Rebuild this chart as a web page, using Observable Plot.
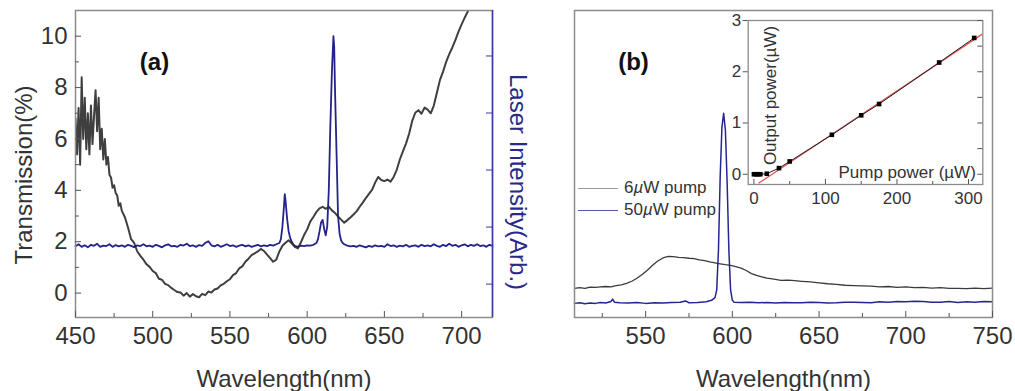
<!DOCTYPE html>
<html><head><meta charset="utf-8">
<script src="https://cdn.jsdelivr.net/npm/d3@7"></script>
<script src="https://cdn.jsdelivr.net/npm/@observablehq/plot@0.6"></script>
<style>
body{margin:0;background:#fff;}
#fig{position:relative;width:1015px;height:391px;overflow:hidden;background:#fff;font-family:"Liberation Sans",Arial,Helvetica,sans-serif;}
#fig > svg{position:absolute;top:0;}
.leg{position:absolute;display:flex;align-items:center;font-size:17px;color:#333;white-space:nowrap;}
.leg span.ln{display:inline-block;width:40px;height:0;margin-right:6px;}
</style></head><body><div id="fig"></div>
<script>
// ---------- Panel (a) data ----------
const transmissionA = [[450,6.8],[451,5.4],[452,7.2],[453,5.0],[454,8.4],[455,6.0],[456,7.6],[457,5.6],[458,7.0],[459,5.4],
[460,7.3],[461,5.8],[462,6.9],[463,7.9],[464,6.3],[465,7.6],[466,5.6],[467,6.4],[468,5.2],[469,6.0],
[470,5.0],[471,5.3],[472,4.6],[473,4.5],[474,4.1],[475,4.2],[476,3.9],[477,3.8],[478,3.4],[479,3.5],[480,3.2],
[482,2.95],[484,2.55],[486,2.1],[488,1.95],[490,1.62],[492,1.45],[494,1.3],[496,1.12],[498,1.02],[500,0.86],
[502,0.78],[504,0.56],[506,0.52],[508,0.36],[510,0.31],[512,0.2],[514,0.12],[516,0.04],[518,0.02],[520,-0.1],
[522,0.0],[524,-0.14],[526,-0.04],[528,-0.12],[530,-0.16],[532,-0.03],[534,-0.08],[536,0.06],[538,0.02],[540,0.14],
[542,0.18],[544,0.3],[546,0.36],[548,0.46],[550,0.54],[552,0.7],[554,0.78],[556,0.96],[558,1.04],[560,1.22],
[562,1.34],[564,1.48],[566,1.55],[568,1.62],[570,1.72],[572,1.64],[574,1.5],[576,1.36],[578,1.22],[580,1.3],
[582,1.62],[584,1.84],[586,1.96],[588,2.06],[590,1.94],[592,1.8],[594,1.74],[596,1.98],[598,2.26],[600,2.48],
[602,2.78],[604,2.96],[606,3.16],[608,3.3],[610,3.36],[612,3.28],[614,3.36],[616,3.22],[618,3.12],[620,2.98],
[622,2.86],[624,2.74],[626,2.84],[628,2.94],[630,3.06],[632,3.18],[634,3.36],[636,3.52],[638,3.7],[640,3.86],
[642,4.02],[644,4.3],[646,4.52],[648,4.4],[650,4.36],[652,4.42],[654,4.34],[656,4.52],[658,4.8],[660,5.2],
[662,5.52],[664,5.82],[666,6.2],[668,6.7],[670,7.02],[672,7.12],[674,6.98],[676,7.22],[678,7.14],[680,7.0],
[682,7.3],[684,7.8],[686,8.3],[688,8.62],[690,9.0],[692,9.3],[694,9.56],[696,9.86],[698,10.18],[700,10.46],
[702,10.72],[704,10.96],[706,11.25]];

const laserA = [[450,1.82],[452,1.9],[454,1.8],[456,1.86],[458,1.78],[460,1.88],[462,1.84],[464,1.92],[466,1.8],[468,1.85],
[470,1.83],[472,1.9],[474,1.8],[476,1.87],[478,1.82],[480,1.86],[482,1.8],[484,1.88],[486,1.84],[488,1.79],
[490,1.86],[492,1.83],[494,1.9],[496,1.82],[498,1.85],[500,1.8],[502,1.88],[504,1.84],[506,1.78],[508,1.86],
[510,1.9],[512,1.82],[514,1.84],[516,1.8],[518,1.88],[520,1.85],[522,1.92],[524,1.83],[526,1.86],[528,1.8],
[530,1.87],[532,1.84],[534,1.95],[536,2.02],[538,1.86],[540,1.82],[542,1.88],[544,1.8],[546,1.85],[548,1.9],
[550,1.83],[552,1.86],[554,1.8],[556,1.85],[558,1.88],[560,1.82],[562,1.86],[564,1.8],[566,1.84],[568,1.88],
[570,1.82],[572,1.86],[574,1.83],[576,1.88],[578,1.85],[580,1.9],[582,1.95],[583,2.1],[584,2.6],[585,3.4],
[585.5,3.85],[586,3.6],[587,2.9],[588,2.4],[589,2.15],[590,2.0],[591,1.9],[592,1.84],[594,1.8],[596,1.85],
[598,1.83],[600,1.86],[602,1.85],[604,1.88],[606,1.95],[607,2.1],[608,2.4],[609,2.75],[610,2.85],[611,2.5],
[612,2.25],[613,2.6],[614,4.0],[615,6.5],[616,8.6],[617,10.0],[617.5,9.6],[618,8.0],[619,5.5],[620,3.0],
[621,2.3],[622,2.05],[623,1.95],[624,1.9],[626,1.85],[628,1.82],[630,1.84],[632,1.8],[634,1.86],[636,1.82],
[638,1.78],[640,1.84],[642,1.8],[644,1.86],[646,1.82],[648,1.84],[650,1.8],[652,1.9],[654,1.83],[656,1.86],
[658,1.8],[660,1.85],[662,1.82],[664,1.88],[666,1.8],[668,1.84],[670,1.86],[672,1.8],[674,1.88],[676,1.83],
[678,1.86],[680,1.82],[682,1.9],[684,1.84],[686,1.8],[688,1.88],[690,1.83],[692,1.92],[694,1.84],[696,1.88],
[698,1.8],[700,1.86],[702,1.9],[704,1.82],[706,1.88],[708,1.84],[710,1.9],[712,1.83],[714,1.86],[716,1.8],
[718,1.88],[720,1.84]];

const xMajorA = [450, 500, 550, 600, 650, 700];
const xMinorA = [475, 525, 575, 625, 675];
const yMajorA = [0, 2, 4, 6, 8, 10];
const yMinorA = [1, 3, 5, 7, 9];
const laserTicksA = [0.35, 2.57, 4.79, 7.01, 9.23];

// ---------- Panel (b) data ----------
const pump6 = [[509,9.5],[512,9.7],[515,9.5],[518,9.9],[521,9.8],[524,10.0],[527,10.1],[530,10.0],[533,10.4],[536,10.6],
[539,11.1],[542,11.8],[545,12.8],[548,14.0],[551,15.4],[554,17.0],[557,18.4],[560,19.4],[563,19.9],[566,19.8],
[569,19.6],[572,19.5],[575,19.3],[578,19.2],[581,18.8],[584,18.5],[587,18.1],[590,17.8],[593,17.5],[596,17.2],
[599,17.0],[602,16.6],[605,16.1],[608,15.3],[611,14.3],[614,13.7],[617,13.2],[620,12.8],[624,12.5],[628,12.1],
[632,12.2],[636,12.0],[640,11.8],[645,11.6],[650,11.3],[655,11.0],[660,10.8],[665,10.5],[670,10.4],[675,10.3],
[680,10.2],[685,10.0],[690,10.1],[695,9.8],[700,10.0],[705,9.7],[710,9.8],[715,9.6],[720,9.7],[725,9.5],
[730,9.5],[735,9.4],[740,9.6],[745,9.4],[750,9.6]];

const pump50 = [[509,4.6],[512,4.8],[515,4.5],[518,4.7],[521,4.6],[524,4.9],[527,4.7],[530,5.2],[531,6.0],[532,5.0],
[535,4.8],[540,4.7],[545,4.9],[550,4.6],[555,4.8],[560,4.7],[565,4.9],[570,5.0],[573,5.4],[575,4.8],
[580,4.9],[585,5.1],[588,5.6],[590,6.5],[591,9.0],[592,22],[593,46],[594,62],[595,66.5],[596,61],
[597,44],[598,22],[599,9],[600,5.6],[601,5.0],[605,4.9],[610,5.0],[615,4.8],[620,4.9],[625,4.7],
[630,4.9],[635,4.8],[640,4.8],[645,5.0],[650,4.9],[655,4.7],[660,4.8],[665,5.0],[670,5.0],[675,4.9],
[680,4.8],[685,5.1],[690,5.0],[695,5.2],[700,5.1],[705,5.3],[710,5.2],[715,5.0],[720,5.0],[725,5.2],
[730,4.9],[735,5.1],[740,5.0],[745,5.2],[750,5.1]];

const xMajorB = [550, 600, 650, 700, 750];
const xMinorB = [525, 575, 625, 675, 725];

// ---------- Inset data ----------
const pumpPower = [0, 3, 6, 9, 18, 35, 50, 109, 150, 175, 259, 308];
const outputPower = [0, 0, 0, 0, 0.01, 0.12, 0.25, 0.77, 1.15, 1.37, 2.18, 2.66];
const fitPump = [7, 322];
const fitOutput = [-0.17, 2.76];
const insetXTicks = [0, 100, 200, 300];
const insetXMinor = [50, 150, 250];
const insetYTicks = [0, 1, 2, 3];
const insetYMinor = [0.5, 1.5, 2.5];

// ---------- drawing ----------
const font = '"Liberation Sans", Arial, Helvetica, sans-serif';
const textColor = "#333";
const frameGray = "#8c8c8c";
const navy = "#23238a";
const fig = document.getElementById("fig");
const fmt = d => String(d);

// Panel (a)
{
  const W = 545, H = 391, mL = 75, mR = 53, mT = 10, mB = 74;
  const fw = W - mL - mR, fh = H - mT - mB;
  const p = Plot.plot({
    width: W, height: H, marginLeft: mL, marginRight: mR, marginTop: mT, marginBottom: mB,
    x: {domain: [450, 720], axis: null},
    y: {domain: [-0.95, 11], axis: null},
    style: {fontFamily: font, fontSize: "24px", color: textColor, background: "transparent", overflow: "visible"},
    marks: [
      Plot.line(laserA, {x: d => d[0], y: d => d[1], stroke: navy, strokeWidth: 1.8}),
      Plot.line(transmissionA, {x: d => d[0], y: d => d[1], stroke: "#2a2a2a", strokeWidth: 2, strokeOpacity: 0.9, clip: true}),
      Plot.frame({stroke: frameGray, strokeWidth: 1.5}),
      Plot.ruleX([720], {stroke: "#3b3ba0", strokeWidth: 1.5}),
      Plot.tickX(xMajorA, {x: d => d, insetTop: fh - 6, stroke: "#555"}),
      Plot.tickX(xMinorA, {x: d => d, insetTop: fh - 4, stroke: "#555"}),
      Plot.tickY(yMajorA, {y: d => d, insetRight: fw - 6, stroke: "#555"}),
      Plot.tickY(yMinorA, {y: d => d, insetRight: fw - 4, stroke: "#555"}),
      Plot.tickY(laserTicksA, {y: d => d, insetLeft: fw - 6, stroke: "#3b3ba0"}),
      Plot.axisX({ticks: xMajorA, tickSize: 0, tickPadding: 9, fontSize: 24, tickFormat: fmt, label: null}),
      Plot.axisY({ticks: yMajorA, tickSize: 0, tickPadding: 8, fontSize: 24, tickFormat: fmt, label: null}),
      Plot.text(["Transmission(%)"], {frameAnchor: "left", dx: -51, dy: 11, rotate: -90, fontSize: 24, textAnchor: "middle", lineAnchor: "middle", fill: textColor}),
      Plot.text(["Laser Intensity(Arb.)"], {frameAnchor: "right", dx: 25, dy: 18, rotate: 90, fontSize: 24, textAnchor: "middle", lineAnchor: "middle", fill: "#2a2a8c"}),
      Plot.text(["Wavelength(nm)"], {frameAnchor: "bottom", dy: 62, fontSize: 24, textAnchor: "middle", lineAnchor: "middle", fill: textColor}),
      Plot.text(["(a)"], {frameAnchor: "top-left", dx: 79, dy: 52, fontSize: 24, fontWeight: "bold", textAnchor: "middle", lineAnchor: "middle", fill: "#111"})
    ]
  });
  p.style.left = "0px";
  fig.appendChild(p);
}

// Panel (b)
{
  const W = 460, H = 391, mL = 19, mR = 23, mT = 10, mB = 74;
  const fw = W - mL - mR, fh = H - mT - mB;
  const p = Plot.plot({
    width: W, height: H, marginLeft: mL, marginRight: mR, marginTop: mT, marginBottom: mB,
    x: {domain: [509, 750], axis: null},
    y: {domain: [0, 100], axis: null},
    style: {fontFamily: font, fontSize: "24px", color: textColor, background: "transparent", overflow: "visible"},
    marks: [
      Plot.line(pump6, {x: d => d[0], y: d => d[1], stroke: "#3a3a3a", strokeWidth: 1.3}),
      Plot.line(pump50, {x: d => d[0], y: d => d[1], stroke: "#262690", strokeWidth: 1.5}),
      Plot.frame({stroke: frameGray, strokeWidth: 1.5}),
      Plot.tickX(xMajorB, {x: d => d, insetTop: fh - 6, stroke: "#555"}),
      Plot.tickX(xMinorB, {x: d => d, insetTop: fh - 4, stroke: "#555"}),
      Plot.axisX({ticks: xMajorB, tickSize: 0, tickPadding: 9, fontSize: 24, tickFormat: fmt, label: null}),
      Plot.text(["Wavelength(nm)"], {frameAnchor: "bottom", dy: 62, fontSize: 24, textAnchor: "middle", lineAnchor: "middle", fill: textColor}),
      Plot.text(["(b)"], {frameAnchor: "top-left", dx: 59, dy: 52, fontSize: 24, fontWeight: "bold", textAnchor: "middle", lineAnchor: "middle", fill: "#111"})
    ]
  });
  p.style.left = "555px";
  fig.appendChild(p);
}

// Inset
{
  const W = 280, H = 210, mL = 27.7, mR = 17.7, mT = 20, mB = 26;
  const fw = W - mL - mR, fh = H - mT - mB;
  const pts = pumpPower.map((v, i) => ({pump: v, out: outputPower[i]}));
  const fit = fitPump.map((v, i) => ({pump: v, out: fitOutput[i]}));
  const p = Plot.plot({
    width: W, height: H, marginLeft: mL, marginRight: mR, marginTop: mT, marginBottom: mB,
    x: {domain: [-8, 320], axis: null},
    y: {domain: [-0.2, 3], axis: null},
    style: {fontFamily: font, fontSize: "17px", color: textColor, background: "transparent", overflow: "visible"},
    marks: [
      Plot.line(fit, {x: "pump", y: "out", stroke: "#e05555", strokeWidth: 1.3, clip: true}),
      Plot.line(pts, {x: "pump", y: "out", stroke: "#222", strokeWidth: 1}),
      Plot.dot(pts, {x: "pump", y: "out", symbol: "square", r: 2.6, fill: "#000"}),
      Plot.frame({stroke: frameGray, strokeWidth: 1.3}),
      Plot.tickX(insetXTicks, {x: d => d, insetTop: fh - 5, stroke: "#555"}),
      Plot.tickX(insetXMinor, {x: d => d, insetTop: fh - 3, stroke: "#555"}),
      Plot.tickY(insetYTicks.concat(insetYMinor), {y: d => d, insetLeft: fw - 5, stroke: "#555"}),
      Plot.axisY({ticks: insetYTicks, tickSize: 5, tickPadding: 2, fontSize: 17, tickFormat: fmt, label: null, stroke: "#555"}),
      Plot.axisX({ticks: insetXTicks, tickSize: 0, tickPadding: 7, fontSize: 17, tickFormat: fmt, label: null}),
      Plot.text(["Output power(\u00b5W)"], {frameAnchor: "left", dx: 22, dy: -7, rotate: -90, fontSize: 17, textAnchor: "middle", lineAnchor: "middle", fill: textColor}),
      Plot.text(["Pump power (\u00b5W)"], {frameAnchor: "bottom-right", dx: -7, dy: -12, fontSize: 17, textAnchor: "end", lineAnchor: "middle", fill: textColor})
    ]
  });
  p.style.left = "720px";
  fig.appendChild(p);
}

// Legend (panel b)
const legendItems = [
  {pre: "6", post: "W pump", color: "#9a9a9a", top: 178},
  {pre: "50", post: "W pump", color: "#5555aa", top: 200}
];
for (const it of legendItems) {
  const d = document.createElement("div");
  d.className = "leg";
  d.style.left = "578px";
  d.style.top = it.top + "px";
  d.innerHTML = `<span class="ln" style="border-top:1.5px solid ${it.color}"></span><span>${it.pre}<i>\u00b5</i>${it.post}</span>`;
  fig.appendChild(d);
}
</script></body></html>
